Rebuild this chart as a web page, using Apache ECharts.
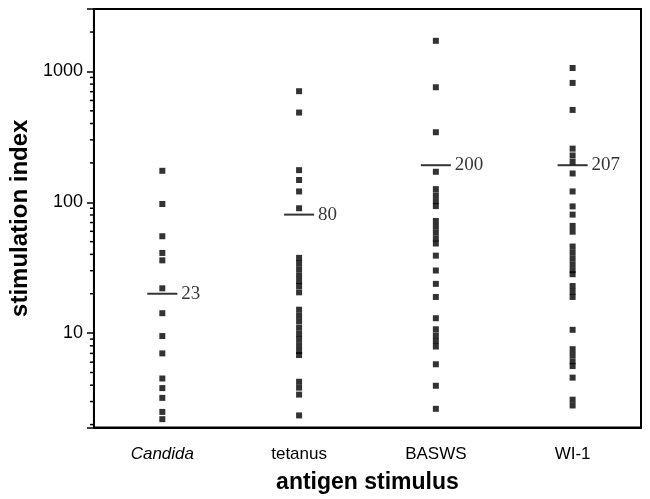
<!doctype html>
<html>
<head>
    <meta charset="utf-8">
    <script src="https://cdn.jsdelivr.net/npm/echarts@6/dist/echarts.min.js"></script>
</head>
<body style="margin: 0; background: #fff">
    <div id="container" style="width: 650px; height: 499px"></div>
    <script type="text/javascript">
        // categories on the x axis
        var categories = ['Candida', 'tetanus', 'BASWS', 'WI-1'];

        // individual stimulation index values
        var candida = [174, 97, 55, 41, 36, 22, 14.2, 9.5, 7.0, 4.5, 3.8, 3.2, 2.5, 2.2];
        var tetanus = [706, 485, 176, 148, 121, 90, 37.6, 34.2, 30.8, 27.7, 25.0, 22.9, 20.5,
                       15.1, 13.6, 12.3, 11.0, 9.9, 9.0, 8.1, 7.3, 6.8, 4.25, 3.83, 3.39, 2.35];
        var basws = [1714, 757, 343, 171, 126, 113, 102, 93.5, 72, 65, 58.6, 52.8, 48.4,
                     39.1, 30.1, 23.8, 18.9, 13.0, 10.7, 9.6, 8.7, 7.9, 5.78, 3.96, 2.64];
        var wi1 = [1062, 817, 508, 257, 228, 204, 166, 121, 93, 80.5, 66, 59.6, 45.9, 41.4,
                   37.3, 33.6, 30.3, 28.2, 22.9, 20.7, 18.9, 10.6, 7.54, 6.8, 6.1, 5.6, 4.57, 3.1, 2.8];

        // horizontal bars (position) and the numbers printed next to them
        var meanLine = [20, 80.5, 192, 192];
        var meanText = ['23', '80', '200', '207'];

        // log axis minor ticks
        var minorTicks = [2, 3, 4, 5, 6, 7, 8, 9, 20, 30, 40, 50, 60, 70, 80, 90,
                          200, 300, 400, 500, 600, 700, 800, 900, 2000];

        var groups = [candida, tetanus, basws, wi1];
        var points = [];
        groups.forEach(function (g, i) {
            g.forEach(function (v) { points.push([i, v]); });
        });
        var means = meanLine.map(function (v, i) { return [i, v]; });

        var sans = 'Liberation Sans';
        var dom = document.getElementById('container');
        var myChart = echarts.init(dom);

        var option = {
            animation: false,
            backgroundColor: '#fff',
            grid: {
                left: 89, right: 9, top: 9, bottom: 67,
                show: true, borderColor: '#000', borderWidth: 2
            },
            xAxis: {
                type: 'category',
                data: categories,
                boundaryGap: true,
                name: 'antigen stimulus',
                nameLocation: 'middle',
                nameGap: 55,
                nameTextStyle: {
                    fontFamily: sans, fontWeight: 'bold', fontSize: 23, color: '#000',
                    verticalAlign: 'middle'
                },
                axisLine: { lineStyle: { color: '#000', width: 2 } },
                axisTick: { alignWithLabel: true, length: 9, lineStyle: { color: '#000', width: 1.5 } },
                axisLabel: {
                    margin: 18,
                    fontFamily: sans, fontSize: 17, color: '#000',
                    formatter: function (v, i) { return i === 0 ? '{it|' + v + '}' : v; },
                    rich: { it: { fontFamily: sans, fontSize: 17, fontStyle: 'italic', color: '#000' } }
                },
                splitLine: { show: false }
            },
            yAxis: {
                type: 'log',
                logBase: 10,
                min: 1.9,
                max: 3000,
                name: 'stimulation index',
                nameLocation: 'middle',
                nameGap: 63,
                nameTextStyle: {
                    fontFamily: sans, fontWeight: 'bold', fontSize: 24, color: '#000',
                    verticalAlign: 'middle'
                },
                axisLine: { show: true, lineStyle: { color: '#000', width: 2 } },
                axisTick: { show: true, length: 7, lineStyle: { color: '#000', width: 1.5 } },
                axisLabel: {
                    margin: 11,
                    fontFamily: sans, fontSize: 18, color: '#000',
                    formatter: function (v) {
                        var l = Math.log10(v);
                        return (v >= 10 && Math.abs(l - Math.round(l)) < 1e-6) ? String(Math.round(v)) : '';
                    }
                },
                splitLine: { show: false }
            },
            series: [
                {
                    type: 'custom',
                    data: minorTicks.map(function (v) { return [0, v]; }),
                    renderItem: function (params, api) {
                        var y = api.coord([0, api.value(1)])[1];
                        var x = params.coordSys.x;
                        return {
                            type: 'line',
                            shape: { x1: x - 4, y1: y, x2: x, y2: y },
                            style: { stroke: '#000', lineWidth: 1.5 }
                        };
                    },
                    silent: true
                },
                {
                    type: 'scatter',
                    data: points,
                    symbol: 'rect',
                    symbolSize: 6,
                    itemStyle: { color: '#000' }
                },
                {
                    type: 'scatter',
                    data: means,
                    symbol: 'rect',
                    symbolSize: [30, 2],
                    itemStyle: { color: '#000' },
                    label: {
                        show: true,
                        position: 'right',
                        distance: 4,
                        fontFamily: 'Liberation Serif',
                        fontSize: 19,
                        color: '#000',
                        formatter: function (p) { return meanText[p.dataIndex]; }
                    },
                    z: 3
                }
            ]
        };
        myChart.setOption(option);
    </script>
</body>
</html>
